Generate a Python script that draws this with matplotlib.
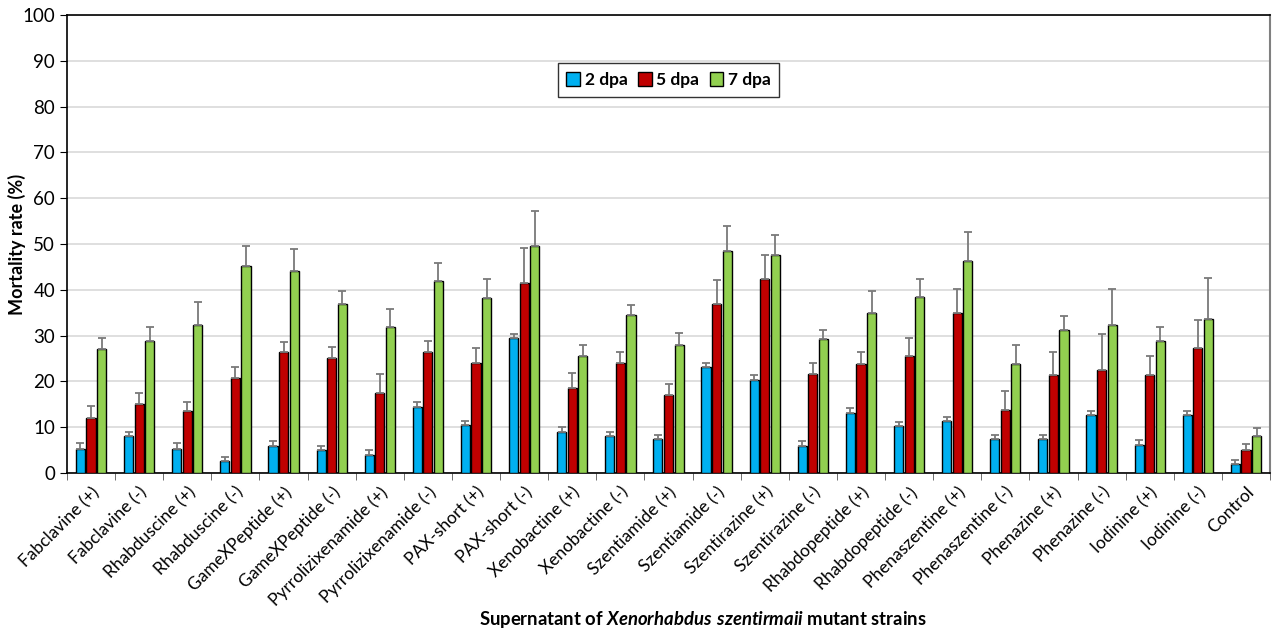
import numpy as np
import matplotlib
matplotlib.use("Agg")
import matplotlib.pyplot as plt

plt.rcParams['font.family'] = ['Lato', 'DejaVu Sans']
plt.rcParams['mathtext.fontset'] = 'custom'
plt.rcParams['mathtext.rm'] = 'Lato'
plt.rcParams['mathtext.bf'] = 'Lato:bold'
plt.rcParams['mathtext.bfit'] = 'Lato:italic:bold'

strains = ["Fabclavine (+)", "Fabclavine (-)", "Rhabduscine (+)", "Rhabduscine (-)",
           "GameXPeptide (+)", "GameXPeptide (-)", "Pyrrolizixenamide (+)", "Pyrrolizixenamide (-)",
           "PAX-short (+)", "PAX-short (-)", "Xenobactine (+)", "Xenobactine (-)",
           "Szentiamide (+)", "Szentiamide (-)", "Szentirazine (+)", "Szentirazine (-)",
           "Rhabdopeptide (+)", "Rhabdopeptide (-)", "Phenaszentine (+)", "Phenaszentine (-)",
           "Phenazine (+)", "Phenazine (-)", "Iodinine (+)", "Iodinine (-)", "Control"]

dpa2 = [5.3, 8.0, 5.3, 2.6, 6.0, 5.0, 3.9, 14.4, 10.4, 29.4, 9.0, 8.0, 7.4,
        23.1, 20.4, 6.0, 13.2, 10.2, 11.4, 7.4, 7.4, 12.6, 6.2, 12.6, 2.0]
dpa2_err = [1.2, 1.0, 1.2, 0.9, 0.9, 1.0, 1.2, 1.2, 1.0, 0.9, 1.0, 1.0, 0.9,
            0.9, 1.0, 1.0, 1.1, 1.0, 0.8, 0.9, 0.9, 0.9, 0.9, 0.9, 0.8]
dpa5 = [12.0, 15.0, 13.5, 20.7, 26.4, 25.2, 17.4, 26.4, 24.0, 41.5, 18.5, 24.0, 17.1,
        37.0, 42.3, 21.6, 23.7, 25.5, 34.9, 13.8, 21.3, 22.5, 21.3, 27.3, 5.0]
dpa5_err = [2.7, 2.5, 2.1, 2.4, 2.1, 2.4, 4.2, 2.4, 3.4, 7.6, 3.3, 2.4, 2.4,
            5.2, 5.2, 2.4, 2.8, 4.0, 5.3, 4.2, 5.2, 7.8, 4.2, 6.0, 1.4]
dpa7 = [27.0, 28.8, 32.4, 45.1, 44.2, 37.0, 31.8, 41.9, 38.2, 49.6, 25.5, 34.5, 28.0,
        48.5, 47.5, 29.2, 34.9, 38.5, 46.3, 23.7, 31.2, 32.4, 28.9, 33.6, 8.0]
dpa7_err = [2.5, 3.0, 4.9, 4.5, 4.8, 2.8, 3.9, 3.9, 4.2, 7.6, 2.4, 2.1, 2.6,
            5.5, 4.5, 2.1, 4.8, 3.8, 6.3, 4.2, 3.0, 7.8, 3.0, 9.0, 1.8]

series = [("2 dpa", dpa2, dpa2_err, "#00b0f0"),
          ("5 dpa", dpa5, dpa5_err, "#c00000"),
          ("7 dpa", dpa7, dpa7_err, "#92d050")]

fig = plt.figure(figsize=(12.76, 6.33), dpi=100)
ax = fig.add_axes([67 / 1276, 1 - 473 / 633, 1203 / 1276, 458 / 633])

x = np.arange(len(strains))
width = 0.19
offsets = [-0.22, 0.0, 0.22]
for (name, vals, errs, col), off in zip(series, offsets):
    vals = np.array(vals)
    errs = np.array(errs)
    ax.bar(x + off, vals, width, color=col, edgecolor="black", linewidth=1.0,
           label=name, zorder=3)
    ax.errorbar(x + off, vals, yerr=[np.zeros_like(errs), errs], fmt="none",
                ecolor="#7a7a7a", elinewidth=1.3, capsize=3, capthick=1.3, zorder=4)

ax.set_xlim(-0.5, len(strains) - 0.5)
ax.set_ylim(0, 100)
ax.set_yticks(range(0, 101, 10))
ax.tick_params(axis="y", labelsize=13.5, direction="out", length=5, color="black")
ax.yaxis.grid(True, color="#d9d9d9", linewidth=1.2, zorder=0)

ax.set_xticks(x)
ax.set_xticklabels(strains, rotation=45, ha="right", rotation_mode="anchor", fontsize=12.5)
ax.tick_params(axis="x", length=0, pad=8)
ax.set_xticks(np.arange(-0.5, len(strains)), minor=True)
ax.tick_params(axis="x", which="minor", length=5, color="#555555")

for side in ["left", "bottom", "top"]:
    ax.spines[side].set_color("black")
    ax.spines[side].set_linewidth(1.2)
ax.spines["right"].set_color("#808080")
ax.spines["right"].set_linewidth(1.5)

ax.set_ylabel("Mortality rate (%)", fontsize=13, fontweight="bold")
ax.yaxis.set_label_coords(-0.034, 0.5)
fig.text(703 / 1276, 1 - 619 / 633,
         r"Supernatant of $\mathbfit{Xenorhabdus\ szentirmaii}$ mutant strains",
         ha="center", va="center", fontsize=13.3, fontweight="bold")

leg = ax.legend(loc="center", bbox_to_anchor=(0.5, 0.858), ncol=3, frameon=True,
                fancybox=False, edgecolor="black", handlelength=0.8, handleheight=0.8,
                handletextpad=0.25, columnspacing=0.6, borderpad=0.5,
                prop={"weight": "bold", "size": 12.5})
leg.get_frame().set_linewidth(1.0)

fig.savefig("out.png", dpi=100, facecolor="white")
